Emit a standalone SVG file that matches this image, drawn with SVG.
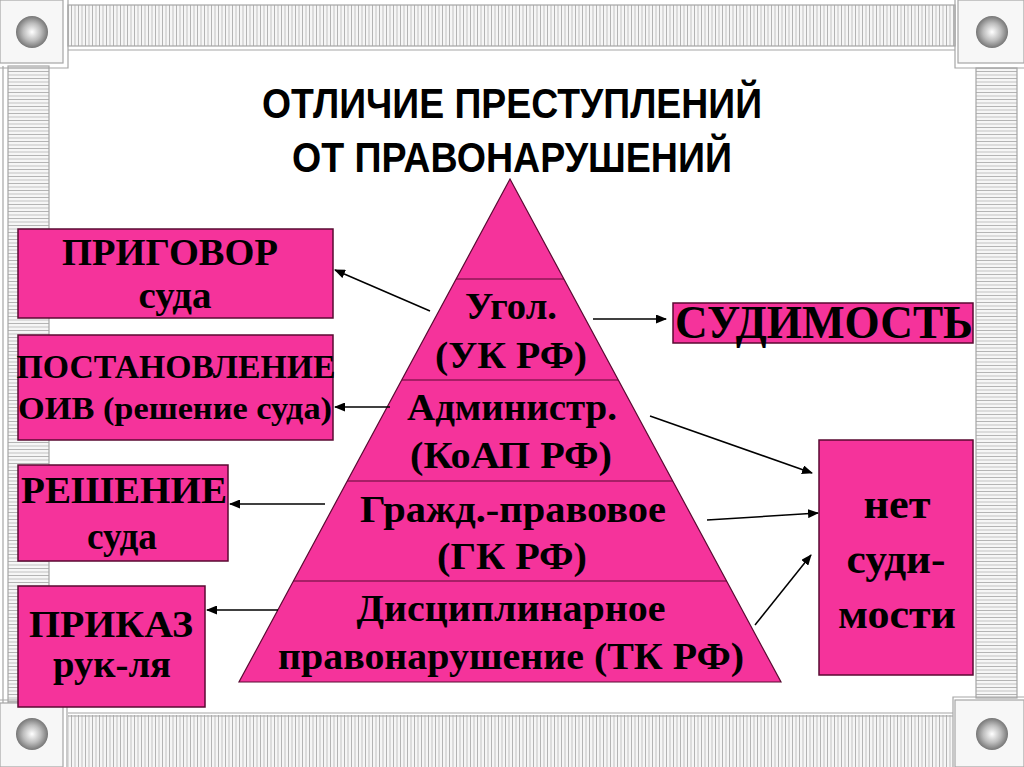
<svg xmlns="http://www.w3.org/2000/svg" width="1024" height="767" viewBox="0 0 1024 767">
<defs>
<style>
.box{fill:#F5339B;stroke:#5a0a32;stroke-width:1.5}
.pyr{fill:#F5339B;stroke:#5a0a32;stroke-width:1.2}
.div{stroke:#5a0a32;stroke-width:1.2}
.t{font-family:"Liberation Serif","Times New Roman",serif;font-weight:bold;fill:#000;text-anchor:middle}
.title{font-family:"Liberation Sans Narrow","Liberation Sans",Arial,sans-serif;font-weight:bold;font-size:42px;fill:#000;text-anchor:middle}
.conn{stroke:#000;stroke-width:1.5;fill:none;marker-end:url(#ah)}
.corner{fill:#f7f7f7;stroke:#a6a6a6;stroke-width:1.2}
.barb{fill:none;stroke:#a6a6a6;stroke-width:1.2}
</style>
<marker id="ah" markerUnits="userSpaceOnUse" markerWidth="11" markerHeight="9" refX="10" refY="4.5" orient="auto">
<path d="M0,0 L11,4.5 L0,9 z" fill="#000"/>
</marker>
<pattern id="vs" patternUnits="userSpaceOnUse" width="7" height="10">
<rect width="7" height="10" fill="#f6f6f6"/>
<rect x="1" width="1" height="10" fill="#b4b4b4"/>
<rect x="4.5" width="1" height="10" fill="#c2c2c2"/>
</pattern>
<pattern id="hs" patternUnits="userSpaceOnUse" width="10" height="7">
<rect width="10" height="7" fill="#f6f6f6"/>
<rect y="1" width="10" height="1" fill="#b4b4b4"/>
<rect y="4.5" width="10" height="1" fill="#c2c2c2"/>
</pattern>
<radialGradient id="ball" cx="0.5" cy="0.5" r="0.55" fx="0.5" fy="0.5">
<stop offset="0" stop-color="#ffffff"/>
<stop offset="0.5" stop-color="#bdbdbd"/>
<stop offset="1" stop-color="#666666"/>
</radialGradient>
</defs>
<rect width="1024" height="767" fill="#ffffff"/>
<g id="frame">
<rect x="68" y="5" width="887" height="41" fill="url(#vs)"/>
<rect x="68" y="5" width="887" height="41" class="barb"/>
<line x1="68" y1="50" x2="955" y2="50" class="barb"/>
<rect x="68" y="715" width="885" height="52" fill="url(#vs)"/>
<line x1="68" y1="713" x2="953" y2="713" class="barb"/>
<line x1="68" y1="716" x2="953" y2="716" class="barb"/>
<rect x="8" y="66" width="41" height="637" fill="url(#hs)"/>
<rect x="8" y="66" width="41" height="637" class="barb"/>
<line x1="3" y1="66" x2="3" y2="703" class="barb"/>
<rect x="976" y="68" width="41" height="630" fill="url(#hs)"/>
<rect x="976" y="68" width="41" height="630" class="barb"/>
<rect x="0" y="0" width="63" height="63" class="corner"/>
<path d="M68,0 V68 H0" class="barb"/>
<circle cx="32" cy="32" r="16" fill="url(#ball)"/>
<rect x="958" y="0" width="66" height="63" class="corner"/>
<path d="M955,0 V68 H1024" class="barb"/>
<circle cx="992" cy="32" r="16" fill="url(#ball)"/>
<rect x="0" y="703" width="63" height="64" class="corner"/>
<path d="M67,767 V700 H0" class="barb"/>
<circle cx="32" cy="734" r="16" fill="url(#ball)"/>
<rect x="955" y="700" width="69" height="67" class="corner"/>
<path d="M953,767 V697 H1024" class="barb"/>
<circle cx="992" cy="734" r="16" fill="url(#ball)"/>
</g>
<g id="title">
<text class="title" x="512" y="118" textLength="500" lengthAdjust="spacingAndGlyphs">ОТЛИЧИЕ ПРЕСТУПЛЕНИЙ</text>
<text class="title" x="512" y="172" textLength="440" lengthAdjust="spacingAndGlyphs">ОТ ПРАВОНАРУШЕНИЙ</text>
</g>
<g id="pyramid">
<polygon class="pyr" points="510,179 781,682 239,682"/>
<line class="div" x1="456" y1="279" x2="564" y2="279"/>
<line class="div" x1="402" y1="380" x2="618" y2="380"/>
<line class="div" x1="347" y1="481" x2="673" y2="481"/>
<line class="div" x1="293" y1="581" x2="727" y2="581"/>
</g>
<g id="tier-ugol">
<text class="t" x="511" y="319" font-size="38" textLength="92" lengthAdjust="spacingAndGlyphs">Угол.</text>
<text class="t" x="511" y="368" font-size="38" textLength="152" lengthAdjust="spacingAndGlyphs">(УК РФ)</text>
</g>
<g id="tier-admin">
<text class="t" x="512" y="420" font-size="38" textLength="210" lengthAdjust="spacingAndGlyphs">Администр.</text>
<text class="t" x="511" y="468" font-size="38" textLength="202" lengthAdjust="spacingAndGlyphs">(КоАП РФ)</text>
</g>
<g id="tier-civil">
<text class="t" x="513" y="522" font-size="38" textLength="306" lengthAdjust="spacingAndGlyphs">Гражд.-правовое</text>
<text class="t" x="512" y="569" font-size="38" textLength="150" lengthAdjust="spacingAndGlyphs">(ГК РФ)</text>
</g>
<g id="tier-disc">
<text class="t" x="511" y="621" font-size="38" textLength="309" lengthAdjust="spacingAndGlyphs">Дисциплинарное</text>
<text class="t" x="511" y="669" font-size="38" textLength="466" lengthAdjust="spacingAndGlyphs">правонарушение (ТК РФ)</text>
</g>
<g id="box-prigovor">
<rect class="box" x="18" y="229" width="315" height="89"/>
<text class="t" x="170" y="265" font-size="37" textLength="216" lengthAdjust="spacingAndGlyphs">ПРИГОВОР</text>
<text class="t" x="175" y="308" font-size="37" textLength="73" lengthAdjust="spacingAndGlyphs">суда</text>
</g>
<g id="box-postanovlenie">
<rect class="box" x="18" y="335" width="315" height="105"/>
<text class="t" x="176" y="378" font-size="34" textLength="319" lengthAdjust="spacingAndGlyphs">ПОСТАНОВЛЕНИЕ</text>
<text class="t" x="175" y="419" font-size="32" textLength="314" lengthAdjust="spacingAndGlyphs">ОИВ (решение суда)</text>
</g>
<g id="box-reshenie">
<rect class="box" x="18" y="465" width="210" height="96"/>
<text class="t" x="124" y="503" font-size="37" textLength="206" lengthAdjust="spacingAndGlyphs">РЕШЕНИЕ</text>
<text class="t" x="122" y="549" font-size="37" textLength="70" lengthAdjust="spacingAndGlyphs">суда</text>
</g>
<g id="box-prikaz">
<rect class="box" x="18" y="586" width="187" height="121"/>
<text class="t" x="111" y="637" font-size="38" textLength="164" lengthAdjust="spacingAndGlyphs">ПРИКАЗ</text>
<text class="t" x="112" y="677" font-size="38" textLength="118" lengthAdjust="spacingAndGlyphs">рук-ля</text>
</g>
<g id="box-sudimost">
<rect class="box" x="673" y="303" width="300" height="40"/>
<text class="t" x="824" y="338" font-size="46" textLength="298" lengthAdjust="spacingAndGlyphs">СУДИМОСТЬ</text>
</g>
<g id="box-net-sudimosti">
<rect class="box" x="819" y="440" width="154" height="235"/>
<text class="t" x="897" y="518" font-size="42" textLength="67" lengthAdjust="spacingAndGlyphs">нет</text>
<text class="t" x="896" y="573" font-size="42" textLength="99" lengthAdjust="spacingAndGlyphs">суди-</text>
<text class="t" x="897" y="628" font-size="42" textLength="118" lengthAdjust="spacingAndGlyphs">мости</text>
</g>
<g id="connectors">
<line class="conn" x1="430" y1="311" x2="335" y2="270"/>
<line class="conn" x1="390" y1="407" x2="335" y2="407"/>
<line class="conn" x1="325" y1="504" x2="230" y2="504"/>
<line class="conn" x1="278" y1="610" x2="207" y2="610"/>
<line class="conn" x1="593" y1="319" x2="666" y2="319"/>
<line class="conn" x1="650" y1="416" x2="812" y2="473"/>
<line class="conn" x1="707" y1="520" x2="818" y2="513"/>
<line class="conn" x1="755" y1="625" x2="811" y2="555"/>
</g>
</svg>
